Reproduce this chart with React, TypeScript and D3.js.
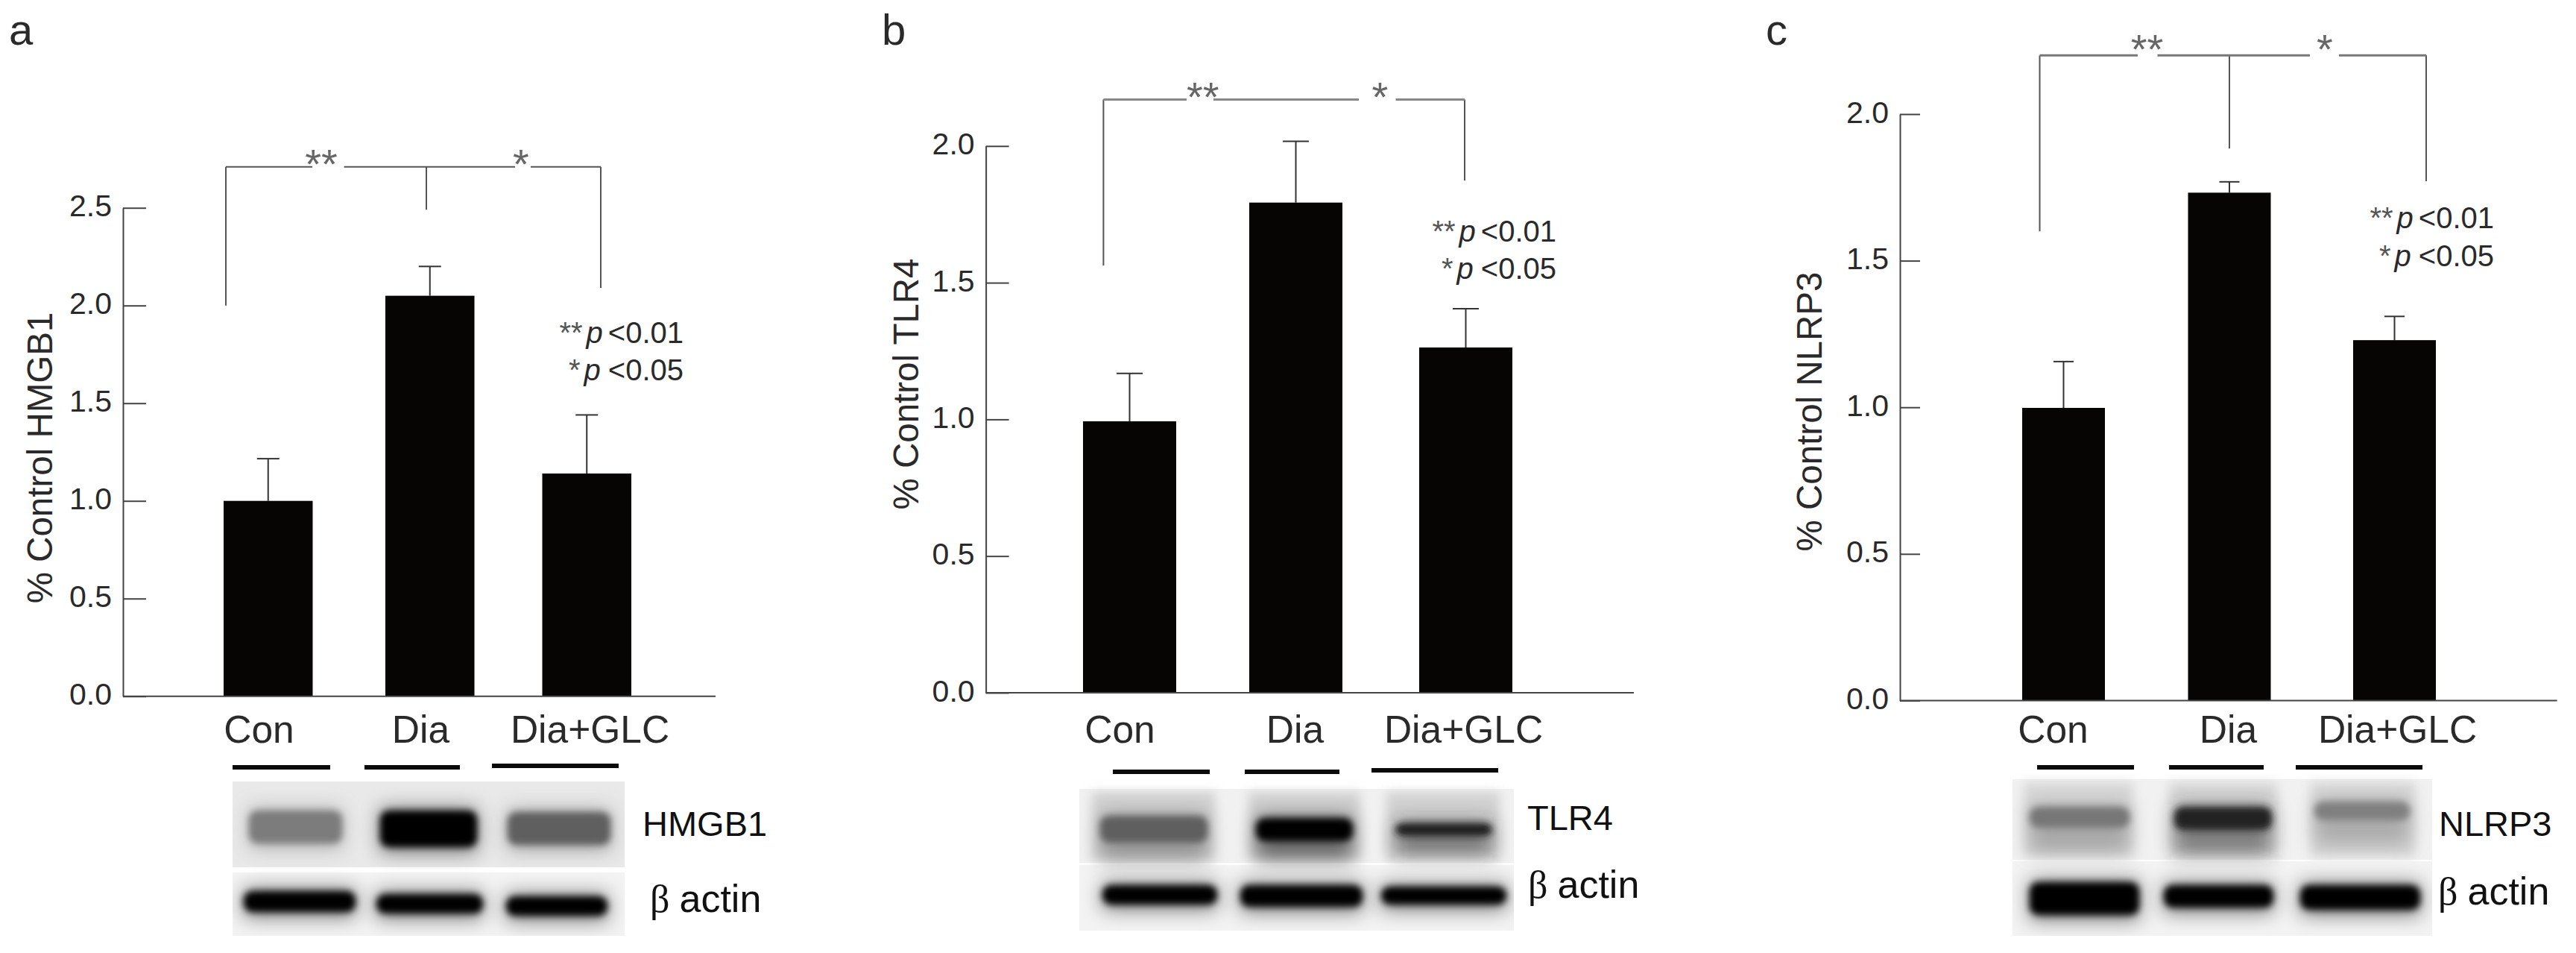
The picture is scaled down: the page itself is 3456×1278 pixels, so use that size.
import React, { useEffect, useRef } from 'react';
import * as d3 from 'd3';

const categories = ['Con', 'Dia', 'Dia+GLC'];

const hmgb1Means = [1.0, 2.05, 1.14];
const hmgb1Tops = [1.216, 2.2, 1.44];
const hmgb1Ticks = [0, 0.5, 1.0, 1.5, 2.0, 2.5];
const hmgb1Bracket = [2.71, 2.0, 2.49, 2.09];
const hmgb1Density = [0.5, 1, 0.62];

const tlr4Means = [0.993, 1.793, 1.263];
const tlr4Tops = [1.168, 2.017, 1.405];
const tlr4Ticks = [0, 0.5, 1.0, 1.5, 2.0];
const tlr4Bracket = [2.17, 1.563, null, 1.874];
const tlr4Density = [0.62, 1, 0.9];

const nlrp3Means = [0.998, 1.732, 1.229];
const nlrp3Tops = [1.156, 1.769, 1.31];
const nlrp3Ticks = [0, 0.5, 1.0, 1.5, 2.0];
const nlrp3Bracket = [2.2, 1.6, 1.883, 1.771];
const nlrp3Density = [0.52, 0.88, 0.48];

const actinDensity = [1, 1, 1];

const panels = [
  {
    letter: 'a', letterX: 12, yLabel: '% Control HMGB1', yLabelX: 70, yLabelY: 614,
    means: hmgb1Means, tops: hmgb1Tops, ticks: hmgb1Ticks, bracket: hmgb1Bracket, density: hmgb1Density,
    yMax: 2.5, axisX: 165, axisEnd: 960, y0: 933.7, yTop: 278.7, tick: 31, capW: 30,
    barX: [300, 517, 727.5], barW: 119.5, labelX: [347, 564, 791],
    bracketX: [303, 572, 806], gaps: [[419, 461.6], [691, 712]], starX: [431, 699], starY: 207,
    hTone: '#555', hWidth: 2,
    pRight: 917, pY: [446, 496],
    rules: [[312, 443, 1029], [489, 617, 1029], [660, 830, 1027]],
    blot: { x0: 312, x1: 838, top: [1048, 1163], bottom: [1170, 1255], tone: '#e9e9e9', lanes: [] },
    smear: 4,
    protein: 'HMGB1', proteinX: 862, proteinY: 1121, actinX: 872, actinY: 1223,
    bands: [[334, 459, 1090, 1128], [510, 640, 1090, 1133], [681, 819, 1092, 1130]],
    actinBands: [[327, 477, 1198, 1220], [505, 648, 1202, 1222], [679, 815, 1205, 1225]],
  },
  {
    letter: 'b', letterX: 1183, yLabel: '% Control TLR4', yLabelX: 1232, yLabelY: 515,
    means: tlr4Means, tops: tlr4Tops, ticks: tlr4Ticks, bracket: tlr4Bracket, density: tlr4Density,
    yMax: 2.0, axisX: 1322.6, axisEnd: 2192, y0: 929, yTop: 195.8, tick: 31, capW: 35,
    barX: [1453, 1676, 1904], barW: 125, labelX: [1502, 1737, 1963],
    bracketX: [1480.4, null, 1965], gaps: [[1592, 1628], [1823, 1872.5]], starX: [1613.7, 1851.5], starY: 117,
    hTone: '#888', hWidth: 3,
    pRight: 2088, pY: [310, 360],
    rules: [[1493, 1623, 1035], [1670, 1797, 1035], [1840, 2010, 1033]],
    blot: { x0: 1448, x1: 2031, top: [1058, 1157], bottom: [1160, 1248], tone: '#d2d2d2', lanes: [[1465, 1630], [1675, 1825], [1860, 2012]] },
    smear: 22,
    protein: 'TLR4', proteinX: 2049, proteinY: 1113, actinX: 2050, actinY: 1204,
    bands: [[1476, 1620, 1097, 1127], [1685, 1815, 1100, 1125], [1872, 2002, 1107, 1118]],
    actinBands: [[1479, 1633, 1190, 1210], [1664, 1828, 1190, 1213], [1853, 2021, 1192, 1210]],
  },
  {
    letter: 'c', letterX: 2369, yLabel: '% Control NLRP3', yLabelX: 2444, yLabelY: 552,
    means: nlrp3Means, tops: nlrp3Tops, ticks: nlrp3Ticks, bracket: nlrp3Bracket, density: nlrp3Density,
    yMax: 2.0, axisX: 2549, axisEnd: 3430.6, y0: 939.4, yTop: 153, tick: 27, capW: 27,
    barX: [2713, 2935.5, 3157], barW: 111, labelX: [2754, 2989, 3216],
    bracketX: [2736.5, 2991, 3255], gaps: [[2868, 2894.5], [3099, 3138]], starX: [2880.5, 3119], starY: 53,
    hTone: '#777', hWidth: 3,
    pRight: 3346, pY: [292, 342.5],
    rules: [[2733, 2863, 1029], [2910, 3037, 1029], [3080, 3250, 1029]],
    blot: { x0: 2700, x1: 3263, top: [1045, 1153], bottom: [1155, 1255], tone: '#d8d8d8', lanes: [[2715, 2862], [2910, 3055], [3100, 3240]] },
    smear: 30,
    protein: 'NLRP3', proteinX: 3272, proteinY: 1121, actinX: 3271, actinY: 1213,
    bands: [[2723, 2857, 1085, 1107], [2917, 3048, 1085, 1110], [3105, 3233, 1078, 1097]],
    actinBands: [[2723, 2870, 1186, 1224], [2903, 3050, 1190, 1214], [3086, 3247, 1190, 1217]],
  },
];

const SANS = '"Liberation Sans", Arial, sans-serif';
const INK = '#2a2a2a';
const tone = d3.scaleLinear<string>().domain([0, 1]).range(['#f2f2f2', '#050505']);

function drawPanel(svg: any, p: any) {
  const g = svg.append('g').attr('font-family', SANS);
  const y = d3.scaleLinear().domain([0, p.yMax]).range([p.y0, p.yTop]);
  const barLeft = d3.scaleOrdinal<string, number>().domain(categories).range(p.barX);
  const labelCentre = d3.scaleOrdinal<string, number>().domain(categories).range(p.labelX);
  const rows = categories.map((c, i) => ({ c, mean: p.means[i], top: p.tops[i] }));

  g.append('text').attr('x', p.letterX).attr('y', 60).attr('font-size', 58).attr('fill', INK).text(p.letter);

  // error bars first, bars sit on them
  const err = g.selectAll('.err').data(rows).enter().append('g').attr('stroke', '#333').attr('stroke-width', 2);
  err.append('line')
    .attr('x1', (d: any) => barLeft(d.c) + p.barW / 2).attr('x2', (d: any) => barLeft(d.c) + p.barW / 2)
    .attr('y1', (d: any) => y(d.mean)).attr('y2', (d: any) => y(d.top));
  err.append('line')
    .attr('x1', (d: any) => barLeft(d.c) + p.barW / 2 - p.capW / 2).attr('x2', (d: any) => barLeft(d.c) + p.barW / 2 + p.capW / 2)
    .attr('y1', (d: any) => y(d.top)).attr('y2', (d: any) => y(d.top));

  g.selectAll('.bar').data(rows).enter().append('rect')
    .attr('x', (d: any) => barLeft(d.c)).attr('width', p.barW)
    .attr('y', (d: any) => y(d.mean)).attr('height', (d: any) => p.y0 - y(d.mean))
    .attr('fill', '#060504');

  const yAxis = g.append('g')
    .attr('transform', `translate(${p.axisX},0)`)
    .call(d3.axisLeft(y).tickValues(p.ticks).tickFormat(d3.format('.1f') as any).tickSize(-p.tick).tickSizeOuter(0).tickPadding(15));
  yAxis.selectAll('line,path').attr('stroke', '#444').attr('stroke-width', 2);
  yAxis.selectAll('text').attr('font-size', 41).attr('font-family', SANS).attr('fill', INK).attr('dy', '0.27em');

  g.append('line').attr('x1', p.axisX).attr('x2', p.axisEnd).attr('y1', p.y0).attr('y2', p.y0)
    .attr('stroke', '#444').attr('stroke-width', 2);

  const xAxis = g.append('g').attr('transform', 'translate(0,996)')
    .call(d3.axisBottom(labelCentre as any).tickSize(0).tickPadding(0));
  xAxis.select('.domain').remove();
  xAxis.selectAll('text').attr('font-size', 51.5).attr('font-family', SANS).attr('fill', INK).attr('dy', 0).attr('y', 0);

  g.append('text').attr('transform', `translate(${p.yLabelX},${p.yLabelY}) rotate(-90)`)
    .attr('text-anchor', 'middle').attr('font-size', 47.5).attr('fill', INK).text(p.yLabel);

  // significance bracket, heights in axis units
  const [bTop, bLeft, bMid, bRight] = p.bracket;
  const [xl, xm, xr] = p.bracketX;
  const link = d3.line();
  const yb = y(bTop);
  const drops = g.append('g').attr('fill', 'none').attr('stroke', '#555').attr('stroke-width', 2);
  drops.append('path').attr('d', link([[xl, y(bLeft)], [xl, yb]]));
  drops.append('path').attr('d', link([[xr, yb], [xr, y(bRight)]]));
  if (bMid !== null) drops.append('path').attr('d', link([[xm, yb], [xm, y(bMid)]]));
  const spans = g.append('g').attr('fill', 'none').attr('stroke', p.hTone).attr('stroke-width', p.hWidth);
  spans.append('path').attr('d', link([[xl, yb], [p.gaps[0][0], yb]]));
  spans.append('path').attr('d', link([[p.gaps[0][1], yb], [p.gaps[1][0], yb]]));
  spans.append('path').attr('d', link([[p.gaps[1][1], yb], [xr, yb]]));

  ['**', '*'].forEach((s, i) => {
    g.append('text').attr('x', p.starX[i]).attr('y', p.starY + 32).attr('text-anchor', 'middle')
      .attr('font-size', 56).attr('fill', '#666').text(s);
  });

  [['**', '<0.01'], ['*', '<0.05']].forEach(([s, v], i) => {
    const t = g.append('text').attr('x', p.pRight).attr('y', p.pY[i] + 14).attr('text-anchor', 'end')
      .attr('font-size', 40).attr('fill', INK);
    t.append('tspan').attr('fill', '#555').text(s);
    t.append('tspan').attr('font-style', 'italic').attr('dx', 5).text('p');
    t.append('tspan').attr('dx', i === 0 ? 7 : 10).text(v);
  });

  p.rules.forEach(([a, b, ry]: number[]) => {
    g.append('line').attr('x1', a).attr('x2', b).attr('y1', ry).attr('y2', ry).attr('stroke', '#0a0a0a').attr('stroke-width', 6);
  });

  // blots
  const b = p.blot;
  g.append('rect').attr('x', b.x0).attr('width', b.x1 - b.x0).attr('y', b.top[0]).attr('height', b.top[1] - b.top[0]).attr('fill', b.lanes.length ? '#f1f1f1' : b.tone);
  b.lanes.forEach(([a, c]: number[]) => {
    g.append('rect').attr('x', a).attr('width', c - a).attr('y', b.top[0] + 4).attr('height', b.top[1] - b.top[0] - 8)
      .attr('fill', b.tone).attr('filter', 'url(#blurSoft)');
  });
  g.append('rect').attr('x', b.x0).attr('width', b.x1 - b.x0).attr('y', b.bottom[0]).attr('height', b.bottom[1] - b.bottom[0]).attr('fill', '#f3f3f3');

  const clipId = `blot-${p.letter}`;
  svg.select('defs').append('clipPath').attr('id', clipId).append('rect')
    .attr('x', b.x0).attr('width', b.x1 - b.x0).attr('y', b.top[0]).attr('height', b.bottom[1] - b.top[0]);
  const lanes = g.append('g').attr('clip-path', `url(#${clipId})`);

  const band = (box: number[], density: number, smear: number) => {
    const [x0, x1, y0, y1] = box;
    lanes.append('rect').attr('x', x0).attr('width', x1 - x0).attr('y', y0 - 6).attr('height', y1 - y0 + 12 + smear)
      .attr('fill', tone(density)).attr('opacity', 0.5).attr('filter', 'url(#blurWide)');
    lanes.append('rect').attr('x', x0).attr('width', x1 - x0).attr('y', y0 - 3).attr('height', y1 - y0 + 6).attr('rx', 12)
      .attr('fill', tone(density)).attr('filter', 'url(#blurTight)');
  };
  p.bands.forEach((box: number[], i: number) => band(box, p.density[i], p.smear));
  p.actinBands.forEach((box: number[], i: number) => band(box, actinDensity[i], 4));

  g.append('text').attr('x', p.proteinX).attr('y', p.proteinY).attr('font-size', 47).attr('fill', '#111').text(p.protein);
  const actin = g.append('text').attr('x', p.actinX).attr('y', p.actinY).attr('font-size', 52).attr('fill', '#111');
  actin.append('tspan').attr('font-family', '"Liberation Serif", serif').text('β');
  actin.append('tspan').attr('dx', 13).text('actin');
}

export default function App() {
  const ref = useRef<SVGSVGElement>(null);

  useEffect(() => {
    const svg = d3.select(ref.current);
    svg.selectAll('*').remove();
    const defs = svg.append('defs');
    [['blurTight', 5], ['blurWide', 13], ['blurSoft', 7]].forEach(([id, sd]) => {
      defs.append('filter').attr('id', id as string)
        .attr('x', '-30%').attr('y', '-80%').attr('width', '160%').attr('height', '260%')
        .append('feGaussianBlur').attr('stdDeviation', sd as number);
    });
    panels.forEach((p) => drawPanel(svg, p));
  }, []);

  return (
    <svg
      ref={ref}
      width={3456}
      height={1278}
      style={{ position: 'absolute', left: 0, top: 0, background: '#fff', display: 'block' }}
    />
  );
}
